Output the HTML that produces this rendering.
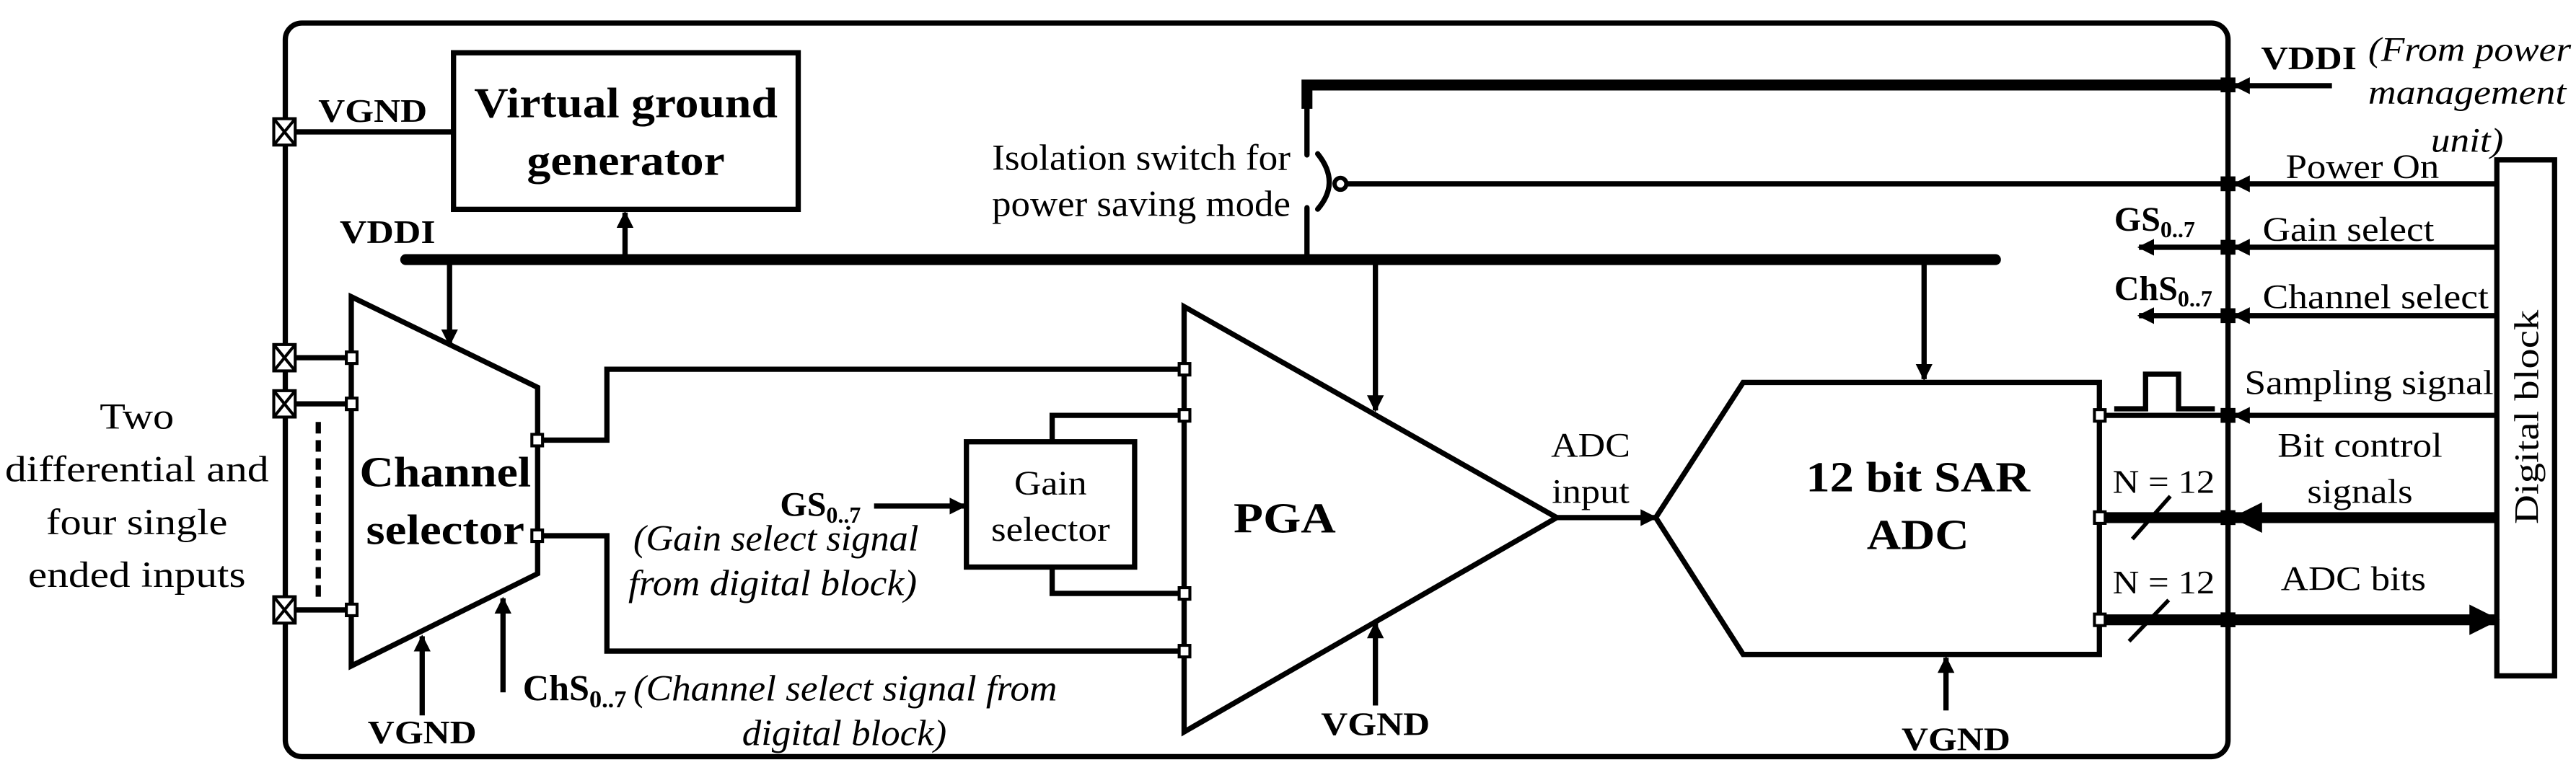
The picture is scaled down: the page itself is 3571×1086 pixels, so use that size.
<!DOCTYPE html>
<html><head><meta charset="utf-8"><style>
html,body{margin:0;padding:0;background:#fff;}
svg{display:block;}
svg text{font-family:"Liberation Serif","Times New Roman",serif;fill:#000;}
.b{font-weight:bold;}
.i{font-style:italic;}
</style></head><body>
<svg width="3571" height="1086" viewBox="0 0 1562 475" preserveAspectRatio="none" xmlns="http://www.w3.org/2000/svg" font-family="Liberation Serif, serif">
<defs>
<marker id="a" viewBox="0 0 10 10" refX="9" refY="5" markerWidth="3.2" markerHeight="3.2" orient="auto" markerUnits="strokeWidth"><path d="M0,0L10,5L0,10z" fill="#000"/></marker>
<marker id="a2" viewBox="0 0 10 10" refX="9" refY="5" markerWidth="2.8" markerHeight="2.8" orient="auto" markerUnits="strokeWidth"><path d="M0,0L10,5L0,10z" fill="#000"/></marker>
</defs>
<g fill="none" stroke="#000" stroke-width="3.2">
<rect x="173" y="14" width="1178" height="445" rx="10" ry="10"/>
<rect x="275" y="32" width="209" height="95"/>
<line x1="179" y1="80" x2="275" y2="80"/>
<line x1="246" y1="157.5" x2="1210" y2="157.5" stroke-width="6.6" stroke-linecap="round"/>
<line x1="379" y1="157" x2="379" y2="129" marker-end="url(#a)"/>
<line x1="272.6" y1="158" x2="272.6" y2="209" marker-end="url(#a)"/>
<polyline points="1351,51.6 792.5,51.6 792.5,66" stroke-width="6.6"/>
<line x1="792.5" y1="64" x2="792.5" y2="94" stroke-linecap="round"/>
<path d="M799,93.3 Q813,110.7 799,126.9" stroke-linecap="round"/>
<circle cx="812.8" cy="111.5" r="3.6" stroke-width="2.6"/>
<line x1="816.5" y1="111.5" x2="1351" y2="111.5"/>
<line x1="792.5" y1="126" x2="792.5" y2="157" stroke-linecap="round"/>
<polygon points="213,180 326,235 326,348 213,404"/>
<line x1="179" y1="217" x2="213" y2="217"/>
<line x1="179" y1="245" x2="213" y2="245"/>
<line x1="179" y1="370" x2="213" y2="370"/>
<line x1="193" y1="256" x2="193" y2="362" stroke-dasharray="7,4"/>
<line x1="256" y1="434" x2="256" y2="386" marker-end="url(#a)"/>
<line x1="305" y1="420" x2="305" y2="363" marker-end="url(#a)"/>
<polyline points="326,267 368,267 368,224 718,224"/>
<polyline points="326,325 368,325 368,395 718,395"/>
<polygon points="718,186 944,314 718,444"/>
<polyline points="638,268 638,252 718,252"/>
<polyline points="638,344 638,360 718,360"/>
<rect x="586" y="268" width="102" height="76"/>
<line x1="530" y1="307" x2="585" y2="307" marker-end="url(#a)"/>
<line x1="834" y1="158" x2="834" y2="249" marker-end="url(#a)"/>
<line x1="834" y1="428" x2="834" y2="378" marker-end="url(#a)"/>
<line x1="944" y1="314" x2="1004" y2="314" marker-end="url(#a)"/>
<polygon points="1057,232 1273,232 1273,397 1057,397 1004,314"/>
<line x1="1166.7" y1="158" x2="1166.7" y2="230" marker-end="url(#a)"/>
<line x1="1180" y1="431" x2="1180" y2="399" marker-end="url(#a)"/>
<line x1="1414" y1="52" x2="1355" y2="52" marker-end="url(#a)"/>
<rect x="1514" y="97" width="35" height="313"/>
<line x1="1514" y1="111.5" x2="1355" y2="111.5" marker-end="url(#a)"/>
<line x1="1514" y1="150" x2="1355" y2="150" marker-end="url(#a)"/>
<line x1="1351" y1="150" x2="1297" y2="150" marker-end="url(#a)"/>
<line x1="1514" y1="191.5" x2="1355" y2="191.5" marker-end="url(#a)"/>
<line x1="1351" y1="191.5" x2="1297" y2="191.5" marker-end="url(#a)"/>
<line x1="1514" y1="252" x2="1355" y2="252" marker-end="url(#a)"/>
<line x1="1273" y1="252" x2="1351" y2="252"/>
<polyline points="1282,248 1301,248 1301,227 1321,227 1321,248 1343,248"/>
<line x1="1514" y1="314" x2="1355" y2="314" stroke-width="6.6" marker-end="url(#a2)"/>
<line x1="1273" y1="314" x2="1351" y2="314" stroke-width="6.6"/>
<line x1="1273" y1="376" x2="1514" y2="376" stroke-width="6.6" marker-end="url(#a2)"/>
<line x1="1293" y1="327" x2="1316" y2="301" stroke-width="2.4"/>
<line x1="1291" y1="389" x2="1315" y2="364" stroke-width="2.4"/>
</g>
<g fill="#fff" stroke="#000" stroke-width="1.8">
<g id="pad"><rect x="166" y="72" width="13" height="16"/><path d="M166,72L179,88M179,72L166,88"/></g>
<use href="#pad" transform="translate(0,137)"/>
<use href="#pad" transform="translate(0,165)"/>
<use href="#pad" transform="translate(0,290)"/>
<rect x="210" y="213.5" width="6.5" height="7"/>
<rect x="210" y="241.5" width="6.5" height="7"/>
<rect x="210" y="366.5" width="6.5" height="7"/>
<rect x="322.5" y="263.5" width="6.5" height="7"/>
<rect x="322.5" y="321.5" width="6.5" height="7"/>
<rect x="715" y="220.5" width="6.5" height="7"/>
<rect x="715" y="248.5" width="6.5" height="7"/>
<rect x="715" y="356.5" width="6.5" height="7"/>
<rect x="715" y="391.5" width="6.5" height="7"/>
<rect x="1270" y="248.5" width="6.5" height="7"/>
<rect x="1270" y="310.5" width="6.5" height="7"/>
<rect x="1270" y="372.5" width="6.5" height="7"/>
</g>
<g fill="#000">
<rect x="1346.5" y="47" width="9" height="9"/>
<rect x="1346.5" y="107" width="9" height="9"/>
<rect x="1346.5" y="145.5" width="9" height="9"/>
<rect x="1346.5" y="187" width="9" height="9"/>
<rect x="1346.5" y="247.5" width="9" height="9"/>
<rect x="1346.5" y="309.5" width="9" height="9"/>
<rect x="1346.5" y="371.5" width="9" height="9"/>
</g>
<g font-size="22" font-family="Liberation Serif, serif">
<text class="b" x="193" y="74" font-size="20" textLength="66" lengthAdjust="spacingAndGlyphs">VGND</text>
<text class="b" x="379.5" y="71" text-anchor="middle" font-size="26" textLength="184" lengthAdjust="spacingAndGlyphs">Virtual ground</text>
<text class="b" x="379.5" y="106" text-anchor="middle" font-size="26" textLength="120" lengthAdjust="spacingAndGlyphs">generator</text>
<text class="b" x="206" y="147.5" font-size="20" textLength="58" lengthAdjust="spacingAndGlyphs">VDDI</text>
<text x="692" y="103" text-anchor="middle" textLength="181" lengthAdjust="spacingAndGlyphs">Isolation switch for</text>
<text x="692" y="131" text-anchor="middle" textLength="181" lengthAdjust="spacingAndGlyphs">power saving mode</text>
<text x="83" y="260" text-anchor="middle" textLength="45" lengthAdjust="spacingAndGlyphs">Two</text>
<text x="83" y="292" text-anchor="middle" textLength="160" lengthAdjust="spacingAndGlyphs">differential and</text>
<text x="83" y="324" text-anchor="middle" textLength="110" lengthAdjust="spacingAndGlyphs">four single</text>
<text x="83" y="356" text-anchor="middle" textLength="132" lengthAdjust="spacingAndGlyphs">ended inputs</text>
<text class="b" x="270" y="295" text-anchor="middle" font-size="26" textLength="104" lengthAdjust="spacingAndGlyphs">Channel</text>
<text class="b" x="270" y="330" text-anchor="middle" font-size="26" textLength="96" lengthAdjust="spacingAndGlyphs">selector</text>
<text x="637" y="300" text-anchor="middle" font-size="21" textLength="44" lengthAdjust="spacingAndGlyphs">Gain</text>
<text x="637" y="328" text-anchor="middle" font-size="21" textLength="72" lengthAdjust="spacingAndGlyphs">selector</text>
<text class="b" x="473" y="313" font-size="21">GS<tspan font-size="14" dy="4">0..7</tspan></text>
<text class="i" x="384" y="334" textLength="173" lengthAdjust="spacingAndGlyphs">(Gain select signal</text>
<text class="i" x="381" y="361" textLength="175" lengthAdjust="spacingAndGlyphs">from digital block)</text>
<text class="b" x="317" y="425" font-size="22">ChS<tspan font-size="15" dy="4">0..7</tspan></text>
<text class="i" x="384" y="425" textLength="257" lengthAdjust="spacingAndGlyphs">(Channel select signal from</text>
<text class="i" x="512" y="452" text-anchor="middle" textLength="124" lengthAdjust="spacingAndGlyphs">digital block)</text>
<text class="b" x="256" y="451" text-anchor="middle" font-size="20" textLength="66" lengthAdjust="spacingAndGlyphs">VGND</text>
<text class="b" x="779" y="323" text-anchor="middle" font-size="26" textLength="62" lengthAdjust="spacingAndGlyphs">PGA</text>
<text class="b" x="834" y="446" text-anchor="middle" font-size="20" textLength="66" lengthAdjust="spacingAndGlyphs">VGND</text>
<text x="964.5" y="277" text-anchor="middle" font-size="21" textLength="48" lengthAdjust="spacingAndGlyphs">ADC</text>
<text x="964.5" y="305" text-anchor="middle" font-size="21" textLength="47" lengthAdjust="spacingAndGlyphs">input</text>
<text class="b" x="1163" y="298" text-anchor="middle" font-size="26" textLength="136" lengthAdjust="spacingAndGlyphs">12 bit SAR</text>
<text class="b" x="1163" y="333" text-anchor="middle" font-size="26" textLength="62" lengthAdjust="spacingAndGlyphs">ADC</text>
<text class="b" x="1186" y="455" text-anchor="middle" font-size="20" textLength="66" lengthAdjust="spacingAndGlyphs">VGND</text>
<text class="b" x="1371" y="42" font-size="20" textLength="58" lengthAdjust="spacingAndGlyphs">VDDI</text>
<text class="i" x="1436" y="37" font-size="21" textLength="123" lengthAdjust="spacingAndGlyphs">(From power</text>
<text class="i" x="1496" y="63" text-anchor="middle" font-size="21" textLength="120" lengthAdjust="spacingAndGlyphs">management</text>
<text class="i" x="1496" y="92" text-anchor="middle" font-size="21" textLength="44" lengthAdjust="spacingAndGlyphs">unit)</text>
<text x="1386" y="108" font-size="21" textLength="93" lengthAdjust="spacingAndGlyphs">Power On</text>
<text class="b" x="1282" y="140" font-size="21">GS<tspan font-size="14" dy="4">0..7</tspan></text>
<text x="1372" y="146" font-size="21" textLength="104" lengthAdjust="spacingAndGlyphs">Gain select</text>
<text class="b" x="1282" y="182" font-size="21">ChS<tspan font-size="14" dy="4">0..7</tspan></text>
<text x="1372" y="187" font-size="21" textLength="137" lengthAdjust="spacingAndGlyphs">Channel select</text>
<text x="1361" y="239" font-size="21" textLength="151" lengthAdjust="spacingAndGlyphs">Sampling signal</text>
<text x="1431" y="277" text-anchor="middle" font-size="21" textLength="100" lengthAdjust="spacingAndGlyphs">Bit control</text>
<text x="1431" y="305" text-anchor="middle" font-size="21" textLength="64" lengthAdjust="spacingAndGlyphs">signals</text>
<text x="1281" y="299" font-size="20" textLength="62" lengthAdjust="spacingAndGlyphs">N = 12</text>
<text x="1281" y="360" font-size="20" textLength="62" lengthAdjust="spacingAndGlyphs">N = 12</text>
<text x="1427" y="358" text-anchor="middle" font-size="21" textLength="88" lengthAdjust="spacingAndGlyphs">ADC bits</text>
<text x="0" y="0" font-size="21" text-anchor="middle" transform="translate(1539,253) rotate(-90)" textLength="130" lengthAdjust="spacingAndGlyphs">Digital block</text>
</g>
</svg>
</body></html>
